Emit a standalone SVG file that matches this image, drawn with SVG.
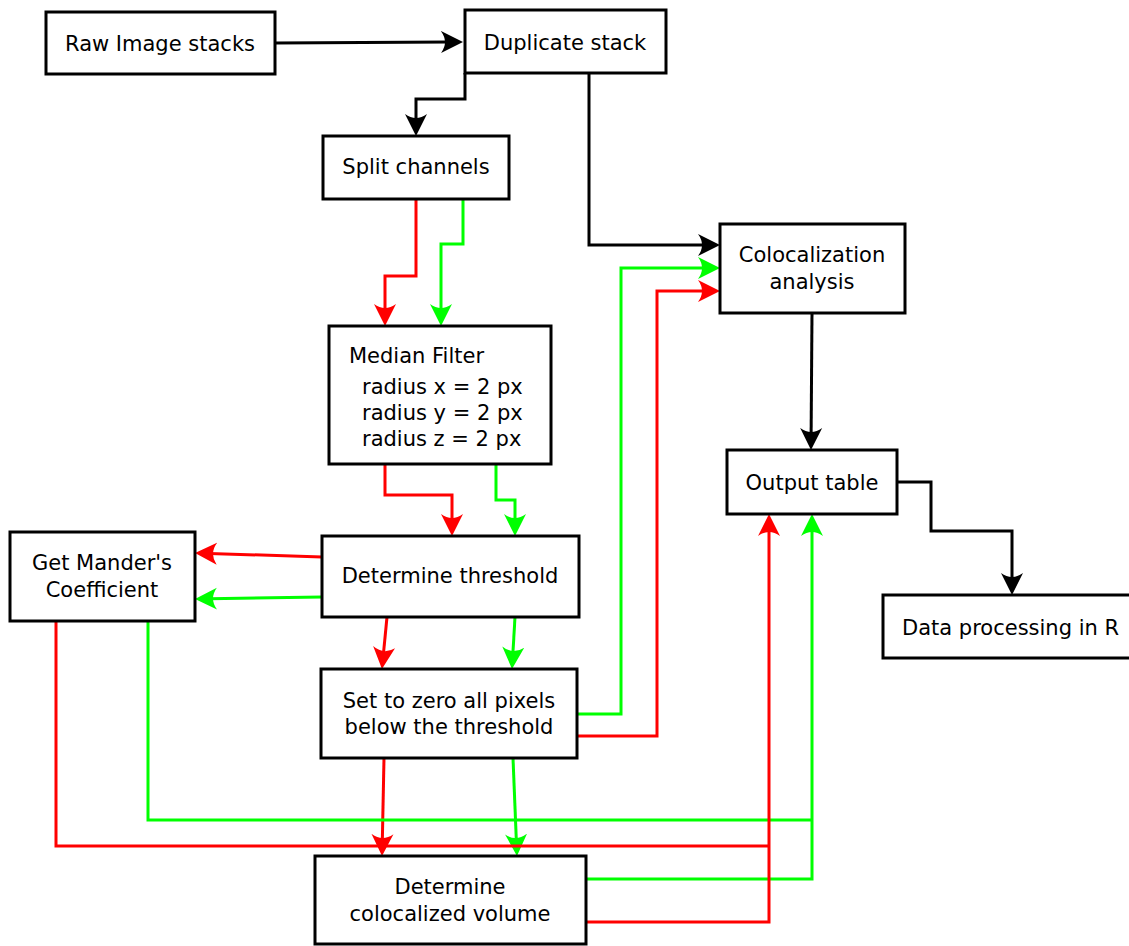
<svg xmlns="http://www.w3.org/2000/svg" width="1129" height="946" viewBox="0 0 1129 946">
<style>
.box{fill:#fff;stroke:#000;stroke-width:3}
text{font-family:"DejaVu Sans",sans-serif;font-size:21px;fill:#000}
.c{text-anchor:middle}
.k{fill:none;stroke:#000;stroke-width:3}
.r{fill:none;stroke:#ff0000;stroke-width:3}
.g{fill:none;stroke:#00ff00;stroke-width:3}
</style>
<defs>
<marker id="ak" markerUnits="userSpaceOnUse" viewBox="0 -12 24 24" markerWidth="24" markerHeight="24" refX="8" refY="0" orient="auto"><path d="M22,0 L0,-11 Q8,0 0,11 Z" fill="#000"/></marker>
<marker id="ar" markerUnits="userSpaceOnUse" viewBox="0 -12 24 24" markerWidth="24" markerHeight="24" refX="8" refY="0" orient="auto"><path d="M22,0 L0,-11 Q8,0 0,11 Z" fill="#ff0000"/></marker>
<marker id="ag" markerUnits="userSpaceOnUse" viewBox="0 -12 24 24" markerWidth="24" markerHeight="24" refX="8" refY="0" orient="auto"><path d="M22,0 L0,-11 Q8,0 0,11 Z" fill="#00ff00"/></marker>
</defs>
<g id="connectors">
<path class="k" d="M276,43 L449,42" marker-end="url(#ak)"/>
<path class="k" d="M465,73 V99 H416 V122" marker-end="url(#ak)"/>
<path class="k" d="M589,73 V245 H706" marker-end="url(#ak)"/>
<path class="r" d="M416,199 V276 H385 V312" marker-end="url(#ar)"/>
<path class="g" d="M463,199 V244 H441 V312" marker-end="url(#ag)"/>
<path class="r" d="M385,464 V495 H452 V522" marker-end="url(#ar)"/>
<path class="g" d="M496,464 V500 H515 V522" marker-end="url(#ag)"/>
<path class="r" d="M322,557 L209,553.4" marker-end="url(#ar)"/>
<path class="g" d="M322,597 L209,598.8" marker-end="url(#ag)"/>
<path class="r" d="M387,617 L383.3,655.1" marker-end="url(#ar)"/>
<path class="g" d="M515,617 L512.8,655" marker-end="url(#ag)"/>
<path class="g" d="M577,714 H621 V268 H706" marker-end="url(#ag)"/>
<path class="r" d="M577,736 H657 V291 H706" marker-end="url(#ar)"/>
<path class="k" d="M812,313 L811.1,436" marker-end="url(#ak)"/>
<path class="k" d="M897,482 H931 V531 H1012 V581" marker-end="url(#ak)"/>
<path class="r" d="M384,758 L382.3,842" marker-end="url(#ar)"/>
<path class="g" d="M513,758 L516.4,842" marker-end="url(#ag)"/>
<path class="r" d="M56,621 V846 H769"/>
<path class="g" d="M148,621 V820 H812"/>
<path class="g" d="M586,879 H812 V528" marker-end="url(#ag)"/>
<path class="r" d="M586,922 H769 V528" marker-end="url(#ar)"/>
</g>
<g id="raw"><rect class="box" x="46" y="12" width="229" height="62"/><text class="c" x="160" y="51">Raw Image stacks</text></g>
<g id="duplicate"><rect class="box" x="465" y="10" width="201" height="63"/><text class="c" x="565" y="50">Duplicate stack</text></g>
<g id="split"><rect class="box" x="323" y="136" width="186" height="63"/><text class="c" x="416" y="174">Split channels</text></g>
<g id="coloc"><rect class="box" x="720" y="224" width="185" height="89"/><text class="c" x="812" y="262">Colocalization</text><text class="c" x="812" y="289">analysis</text></g>
<g id="median"><rect class="box" x="329" y="326" width="222" height="138"/><text x="349" y="363">Median Filter</text><text x="362" y="394">radius x = 2 px</text><text x="362" y="420">radius y = 2 px</text><text x="362" y="446">radius z = 2 px</text></g>
<g id="output"><rect class="box" x="727" y="450" width="170" height="64"/><text class="c" x="812" y="490">Output table</text></g>
<g id="manders"><rect class="box" x="10" y="532" width="185" height="89"/><text class="c" x="102" y="570">Get Mander's</text><text class="c" x="102" y="597">Coefficient</text></g>
<g id="threshold"><rect class="box" x="322" y="536" width="257" height="81"/><text class="c" x="450" y="583">Determine threshold</text></g>
<g id="dataR"><rect class="box" x="883" y="595" width="250" height="63"/><text x="902" y="635">Data processing in R</text></g>
<g id="setzero"><rect class="box" x="321" y="669" width="256" height="89"/><text class="c" x="449" y="708">Set to zero all pixels</text><text class="c" x="449" y="734">below the threshold</text></g>
<g id="volume"><rect class="box" x="315" y="856" width="271" height="88"/><text class="c" x="450" y="894">Determine</text><text class="c" x="450" y="921">colocalized volume</text></g>
</svg>
